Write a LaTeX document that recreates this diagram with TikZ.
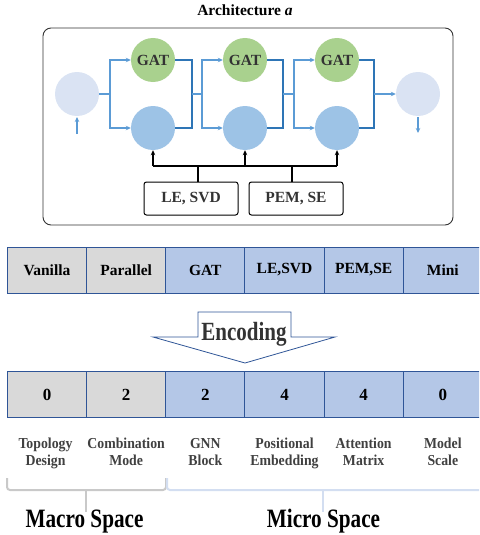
\documentclass[tikz,border=0pt]{standalone}
\usepackage{fontspec}
\setmainfont{Liberation Serif}
\usetikzlibrary{arrows.meta}
\definecolor{gatgreen}{HTML}{A9D18E}
\definecolor{blockblue}{HTML}{9DC3E6}
\definecolor{ioblue}{HTML}{DAE3F3}
\definecolor{linkblue}{HTML}{2E75B6}
\definecolor{branchblue}{HTML}{5B9BD5}
\definecolor{cellgray}{HTML}{D9D9D9}
\definecolor{cellblue}{HTML}{B4C7E7}
\definecolor{cellborder}{HTML}{2F5597}
\definecolor{labelgray}{HTML}{404040}
\definecolor{textdark}{HTML}{333333}
\definecolor{bracegray}{HTML}{C9C9C9}
\definecolor{braceblue}{HTML}{D3DEF1}
\newcommand{\vstr}[2]{\scalebox{1}[#1]{#2}}
\newcommand{\twoline}[2]{\vstr{1.1}{\begin{tabular}{@{}c@{}}#1\\#2\end{tabular}}}
\begin{document}
\begin{tikzpicture}[x=1pt,y=-1pt,
  circ/.style={circle, minimum size=44pt, inner sep=0pt, font=\fontsize{15.5}{18}\selectfont\bfseries, text=textdark},
  gatnode/.style={circ, fill=gatgreen},
  blknode/.style={circ, fill=blockblue},
  ionode/.style={circ, fill=ioblue},
  branch/.style={draw=branchblue, line width=1.3pt},
  merge/.style={draw=linkblue, line width=1.6pt},
  btip/.style={-{Stealth[length=5pt,width=4.5pt]}},
  bus/.style={draw=black, line width=1.3pt},
  pebox/.style={draw=black, line width=1pt, rounded corners=2.5pt, minimum width=94pt, minimum height=33pt, inner sep=0pt, font=\fontsize{15.5}{18}\selectfont\bfseries, text=textdark},
  cell/.style={draw=cellborder, line width=0.9pt, minimum width=79.17pt, minimum height=46pt, inner sep=0pt, font=\fontsize{15.5}{18}\selectfont\bfseries},
  gcell/.style={cell, fill=cellgray},
  ucell/.style={cell, fill=cellblue},
  numtext/.style={font=\fontsize{17}{18}\selectfont\bfseries},
  lbl/.style={align=center, text=labelgray, font=\fontsize{13.8}{15.2}\selectfont\bfseries, inner sep=0pt},
  spacelbl/.style={anchor=base, font=\fontsize{21.2}{24}\selectfont\bfseries, text=black, inner sep=0pt},
  bracestyle/.style={line width=2pt, rounded corners=3pt},
]
\useasboundingbox (0,0) rectangle (479,535);
\clip (0,0) rectangle (479,535);

% title
\node[font=\fontsize{15.5}{18}\selectfont\bfseries] (title) at (245,10) {Architecture \textit{a}};

% frame
\node[draw=textdark, line width=0.9pt, rounded corners=8pt, minimum width=410pt, minimum height=197pt, inner sep=0pt] (frame) at (248,126.5) {};

% circles
\node[ionode] (in) at (77,94) {};
\node[ionode] (out) at (418,94) {};
\node[gatnode] (g1) at (153,60) {GAT};
\node[gatnode] (g2) at (245,60) {GAT};
\node[gatnode] (g3) at (337,60) {GAT};
\node[blknode] (b1) at (153,128) {};
\node[blknode] (b2) at (245,128) {};
\node[blknode] (b3) at (337,128) {};

% junction coordinates
\coordinate (s1) at (110,94);
\coordinate (m1) at (192,94);
\coordinate (s2) at (202,94);
\coordinate (m2) at (283,94);
\coordinate (s3) at (294,94);
\coordinate (m3) at (374,94);
\coordinate (inlow) at (77,134);
\coordinate (inup) at (77,117);
\coordinate (outup) at (418,117);
\coordinate (outlow) at (418,133);

% input / output arrows
\draw[branch, btip] (inlow) -- (inup);
\draw[branch, btip] (outup) -- (outlow);

% branches
\draw[branch] (in.east) -- (s1);
\draw[branch, btip] (s1) |- (g1.west);
\draw[branch, btip] (s1) |- (b1.west);
\draw[merge] (g1.east) -| (m1);
\draw[merge] (b1.east) -| (m1);
\draw[branch] (m1) -- (s2);
\draw[branch, btip] (s2) |- (g2.west);
\draw[branch, btip] (s2) |- (b2.west);
\draw[merge] (g2.east) -| (m2);
\draw[merge] (b2.east) -| (m2);
\draw[branch] (m2) -- (s3);
\draw[branch, btip] (s3) |- (g3.west);
\draw[branch, btip] (s3) |- (b3.west);
\draw[merge] (g3.east) -| (m3);
\draw[merge] (b3.east) -| (m3);
\draw[branch, btip] (m3) -- (out.west);

% positional encoding boxes and bus
\node[pebox] (le) at (191,198.5) {LE, SVD};
\node[pebox] (pem) at (296,198.5) {PEM, SE};
\coordinate (busl) at (153,166);
\coordinate (busm) at (245,166);
\coordinate (busr) at (337,166);
\coordinate (lej) at (198,166);
\coordinate (pemj) at (292,166);
\draw[bus] (busl) -- (busr);
\draw[bus] ([xshift=7pt]le.north) -- (lej);
\draw[bus] ([xshift=-4pt]pem.north) -- (pemj);
\draw[bus, -{Stealth[length=5pt,width=4.5pt]}] (busl) -- (b1.south);
\draw[bus, -{Stealth[length=5pt,width=4.5pt]}] (busm) -- (b2.south);
\draw[bus, -{Stealth[length=5pt,width=4.5pt]}] (busr) -- (b3.south);

% table row 1
\node[gcell] (c11) at (47,270) {Vanilla};
\node[gcell] (c12) at (126.17,270) {Parallel};
\node[ucell] (c13) at (205.33,270) {GAT};
\node[ucell] (c14) at (284.5,270) {LE,SVD};
\node[ucell] (c15) at (363.67,270) {PEM,SE};
\node[ucell] (c16) at (442.83,270) {Mini};

% encoding arrow
\coordinate (ea) at (198,312);
\coordinate (eb) at (291,312);
\coordinate (ec) at (291,337);
\coordinate (ed) at (335,337);
\coordinate (ee) at (245,363);
\coordinate (ef) at (153,337);
\coordinate (eg) at (198,337);
\draw[draw=cellborder, fill=white, line width=0.8pt] (ea) -- (eb) -- (ec) -- (ed) -- (ee) -- (ef) -- (eg) -- cycle;
\node[anchor=base, font=\fontsize{21}{24}\selectfont\bfseries, text=textdark, inner sep=0pt] (enc) at (244,340) {\vstr{1.25}{Encoding}};

% table row 2
\node[gcell, numtext] (c21) at (47,394.5) {0};
\node[gcell, numtext] (c22) at (126.17,394.5) {2};
\node[ucell, numtext] (c23) at (205.33,394.5) {2};
\node[ucell, numtext] (c24) at (284.5,394.5) {4};
\node[ucell, numtext] (c25) at (363.67,394.5) {4};
\node[ucell, numtext] (c26) at (442.83,394.5) {0};

% labels
\node[lbl] (l1) at (45.5,454) {\twoline{Topology}{Design}};
\node[lbl] (l2) at (126.17,454) {\twoline{Combination}{Mode}};
\node[lbl] (l3) at (205.33,454) {\twoline{GNN}{Block}};
\node[lbl] (l4) at (284.5,454) {\twoline{Positional}{Embedding}};
\node[lbl] (l5) at (363.67,454) {\twoline{Attention}{Matrix}};
\node[lbl] (l6) at (442.83,454) {\twoline{Model}{Scale}};

% braces
\draw[bracestyle, draw=bracegray] (7,478) -- (7,490) -- (166,490) -- (166,478);
\draw[line width=2pt, draw=bracegray] (86,490) -- (86,512);
\draw[bracestyle, draw=braceblue] (167,478) -- (167,490) -- (495,490);
\draw[line width=2pt, draw=braceblue] (323,490) -- (323,512);

\node[spacelbl] (macro) at (84.5,527) {\vstr{1.25}{Macro Space}};
\node[spacelbl] (micro) at (323.5,527) {\vstr{1.25}{Micro Space}};
\end{tikzpicture}
\end{document}
